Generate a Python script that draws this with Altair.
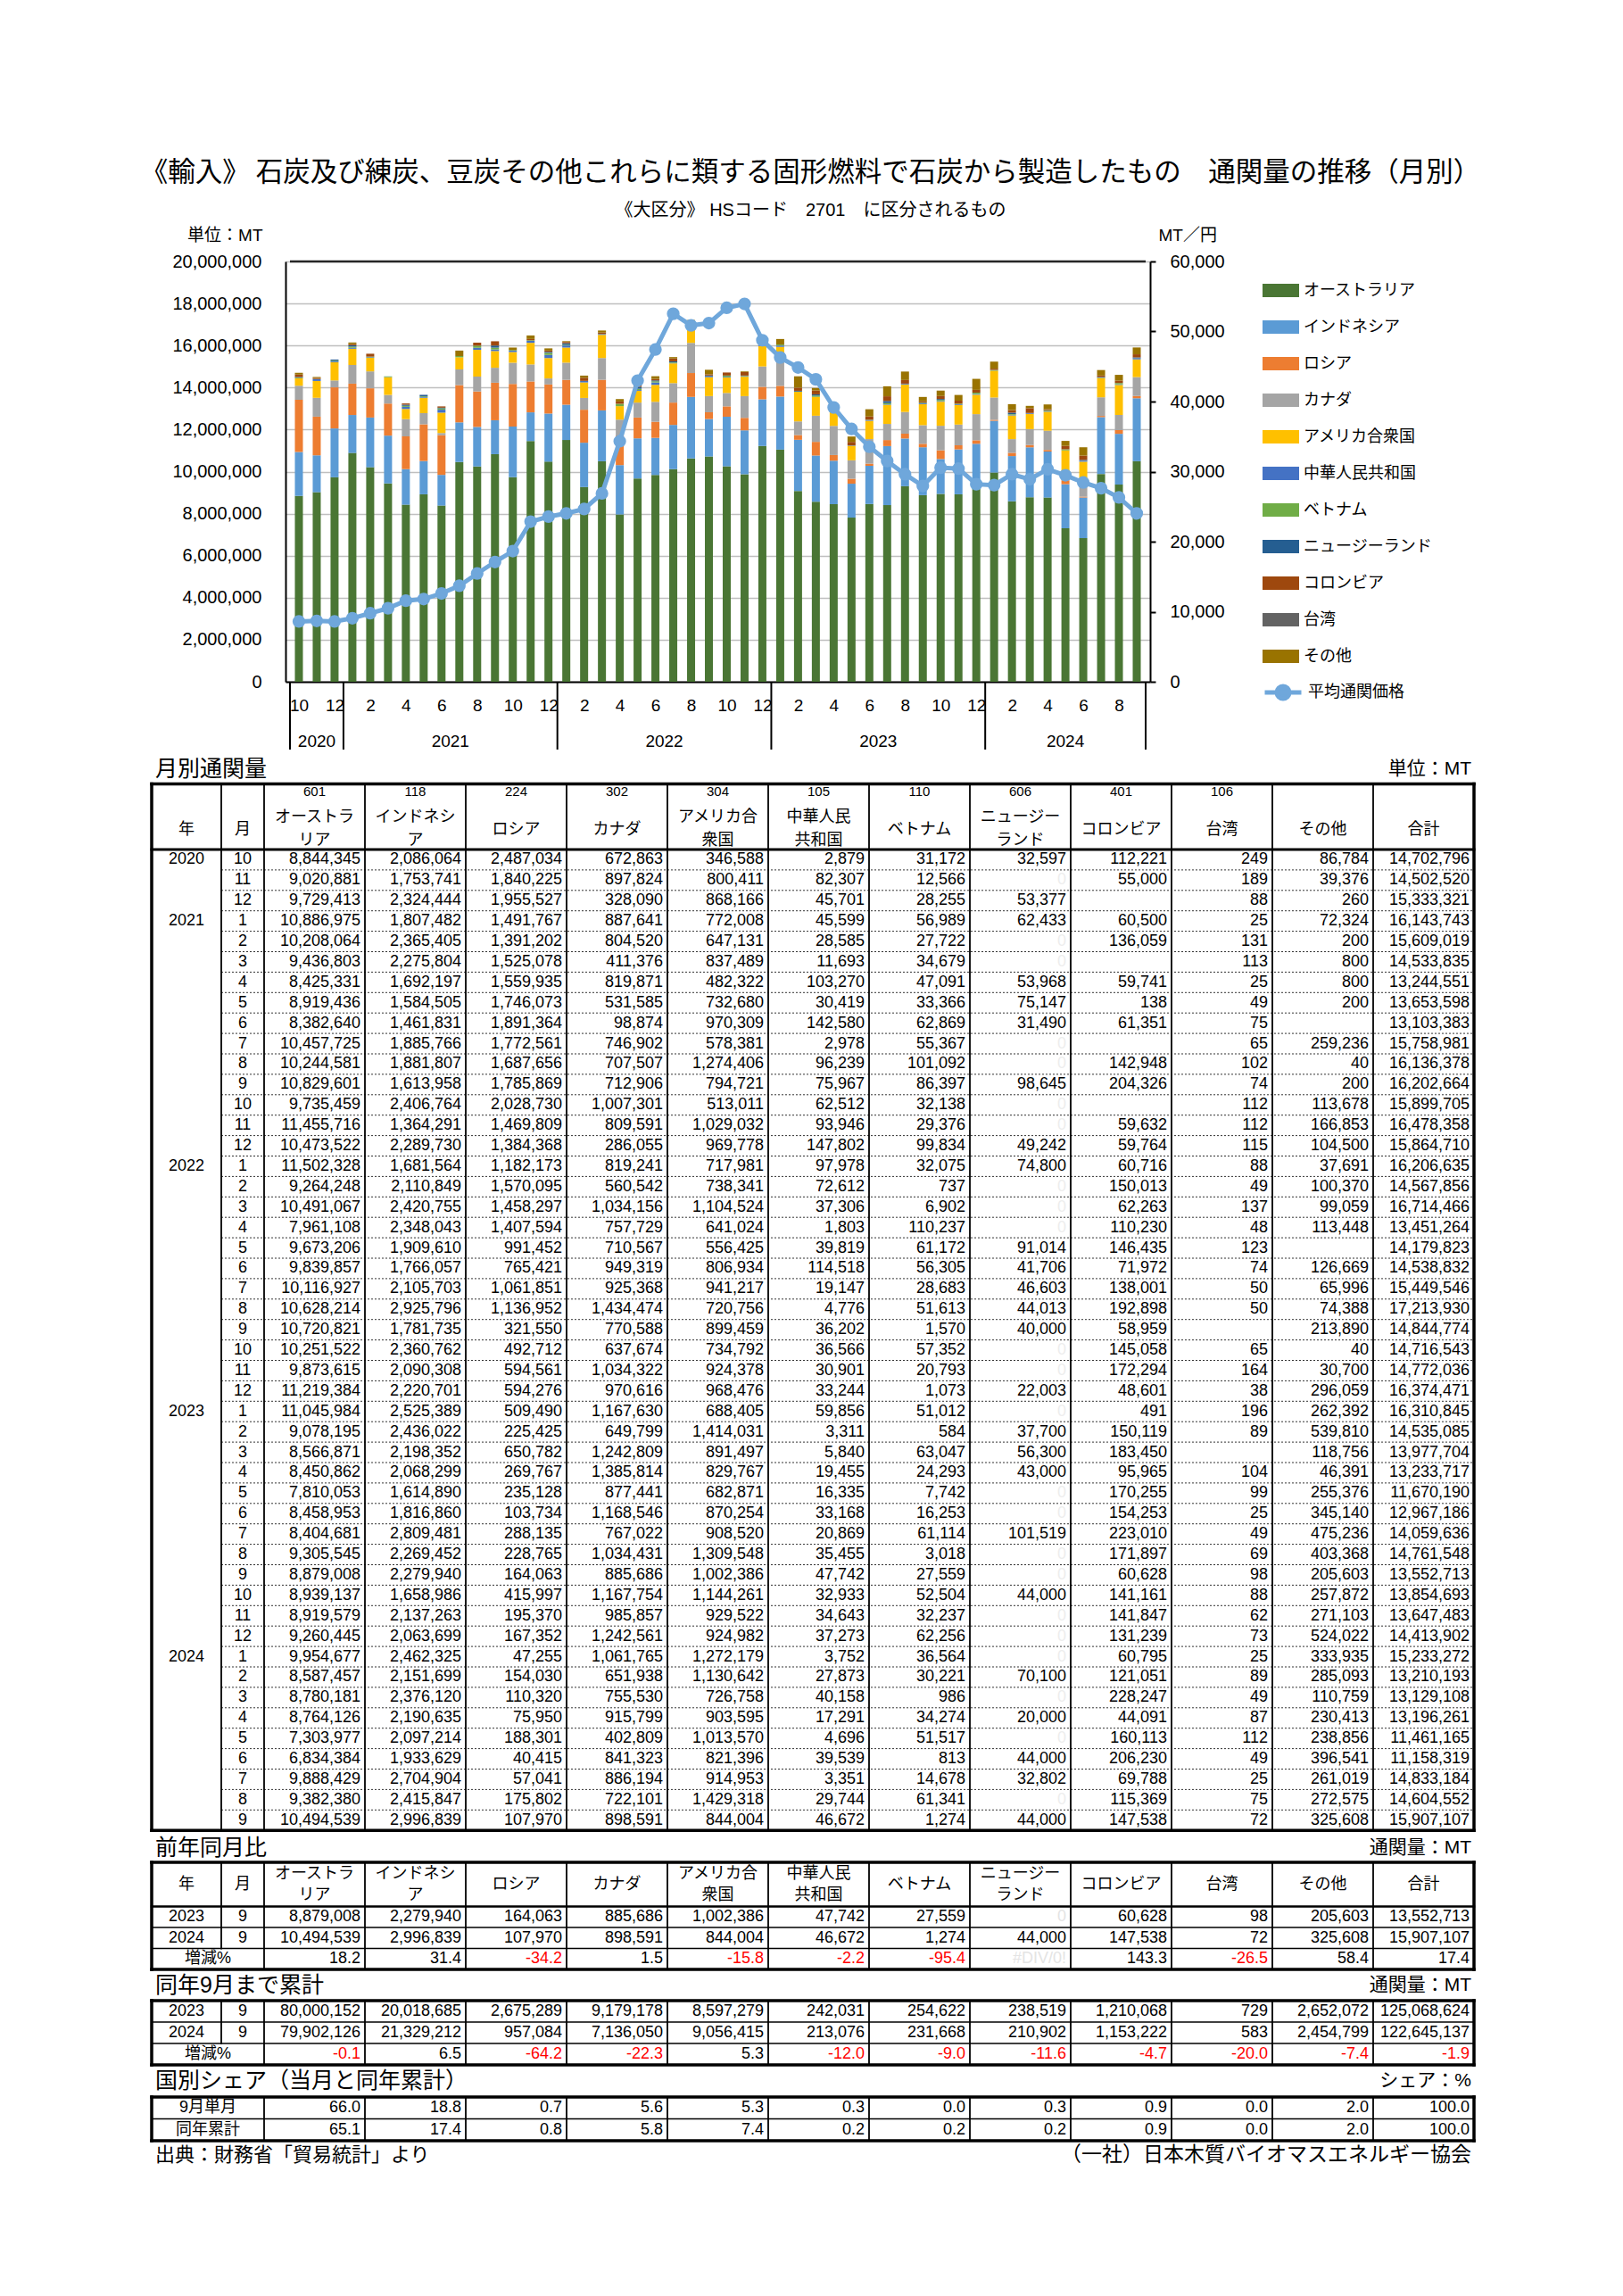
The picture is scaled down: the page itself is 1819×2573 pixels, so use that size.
import altair as alt
import pandas as pd

JP = "Noto Sans CJK JP"
MIX = "Liberation Sans, Noto Sans CJK JP"

# ---------------- data ----------------
years = [2020, 2020, 2020,
         2021, 2021, 2021, 2021, 2021, 2021, 2021, 2021, 2021, 2021, 2021, 2021,
         2022, 2022, 2022, 2022, 2022, 2022, 2022, 2022, 2022, 2022, 2022, 2022,
         2023, 2023, 2023, 2023, 2023, 2023, 2023, 2023, 2023, 2023, 2023, 2023,
         2024, 2024, 2024, 2024, 2024, 2024, 2024, 2024, 2024]
months = [10, 11, 12,
          1, 2, 3, 4, 5, 6, 7, 8, 9, 10, 11, 12,
          1, 2, 3, 4, 5, 6, 7, 8, 9, 10, 11, 12,
          1, 2, 3, 4, 5, 6, 7, 8, 9, 10, 11, 12,
          1, 2, 3, 4, 5, 6, 7, 8, 9]

countries = ["オーストラリア", "インドネシア", "ロシア", "カナダ", "アメリカ合衆国", "中華人民共和国",
             "ベトナム", "ニュージーランド", "コロンビア", "台湾", "その他"]
codes = ["601", "118", "224", "302", "304", "105", "110", "606", "401", "106", "", ""]
header_names = [("オーストラ", "リア"), ("インドネシ", "ア"), ("ロシア",), ("カナダ",), ("アメリカ合", "衆国"),
                ("中華人民", "共和国"), ("ベトナム",), ("ニュージー", "ランド"), ("コロンビア",), ("台湾",),
                ("その他",), ("合計",)]
colors = ["#4A7634", "#5B9BD5", "#ED7D31", "#A5A5A5", "#FFC000", "#4472C4",
          "#70AD47", "#255E91", "#9E480E", "#636363", "#997300"]
PRICE_C = "#6FA7DB"

aus = [8844345, 9020881, 9729413, 10886975, 10208064, 9436803, 8425331, 8919436, 8382640, 10457725, 10244581,
       10829601, 9735459, 11455716, 10473522, 11502328, 9264248, 10491067, 7961108, 9673206, 9839857, 10116927,
       10628214, 10720821, 10251522, 9873615, 11219384, 11045984, 9078195, 8566871, 8450862, 7810053, 8458953,
       8404681, 9305545, 8879008, 8939137, 8919579, 9260445, 9954677, 8587457, 8780181, 8764126, 7303977,
       6834384, 9888429, 9382380, 10494539]
indo = [2086064, 1753741, 2324444, 1807482, 2365405, 2275804, 1692197, 1584505, 1461831, 1885766, 1881807,
        1613958, 2406764, 1364291, 2289730, 1681564, 2110849, 2420755, 2348043, 1909610, 1766057, 2105703,
        2925796, 1781735, 2360762, 2090308, 2220701, 2525389, 2436022, 2198352, 2068299, 1614890, 1816860,
        2809481, 2269452, 2279940, 1658986, 2137263, 2063699, 2462325, 2151699, 2376120, 2190635, 2097214,
        1933629, 2704904, 2415847, 2996839]
rus = [2487034, 1840225, 1955527, 1491767, 1391202, 1525078, 1559935, 1746073, 1891364, 1772561, 1687656,
       1785869, 2028730, 1469809, 1384368, 1182173, 1570095, 1458297, 1407594, 991452, 765421, 1061851,
       1136952, 321550, 492712, 594561, 594276, 509490, 225425, 650782, 269767, 235128, 103734, 288135,
       228765, 164063, 415997, 195370, 167352, 47255, 154030, 110320, 75950, 188301, 40415, 57041, 175802,
       107970]
can = [672863, 897824, 328090, 887641, 804520, 411376, 819871, 531585, 98874, 746902, 707507, 712906,
       1007301, 809591, 286055, 819241, 560542, 1034156, 757729, 710567, 949319, 925368, 1434474, 770588,
       637674, 1034322, 970616, 1167630, 649799, 1242809, 1385814, 877441, 1168546, 767022, 1034431, 885686,
       1167754, 985857, 1242561, 1061765, 651938, 755530, 915799, 402809, 841323, 886194, 722101, 898591]
usa = [346588, 800411, 868166, 772008, 647131, 837489, 482322, 732680, 970309, 578381, 1274406, 794721,
       513011, 1029032, 969778, 717981, 738341, 1104524, 641024, 556425, 806934, 941217, 720756, 899459,
       734792, 924378, 968476, 688405, 1414031, 891497, 829767, 682871, 870254, 908520, 1309548, 1002386,
       1144261, 929522, 924982, 1272179, 1130642, 726758, 903595, 1013570, 821396, 914953, 1429318, 844004]
chn = [2879, 82307, 45701, 45599, 28585, 11693, 103270, 30419, 142580, 2978, 96239, 75967, 62512, 93946,
       147802, 97978, 72612, 37306, 1803, 39819, 114518, 19147, 4776, 36202, 36566, 30901, 33244, 59856,
       3311, 5840, 19455, 16335, 33168, 20869, 35455, 47742, 32933, 34643, 37273, 3752, 27873, 40158, 17291,
       4696, 39539, 3351, 29744, 46672]
vnm = [31172, 12566, 28255, 56989, 27722, 34679, 47091, 33366, 62869, 55367, 101092, 86397, 32138, 29376,
       99834, 32075, 737, 6902, 110237, 61172, 56305, 28683, 51613, 1570, 57352, 20793, 1073, 51012, 584,
       63047, 24293, 7742, 16253, 61114, 3018, 27559, 52504, 32237, 62256, 36564, 30221, 986, 34274, 51517,
       813, 14678, 61341, 1274]
nz = [32597, None, 53377, 62433, None, None, 53968, 75147, 31490, None, None, 98645, None, None, 49242,
      74800, None, None, None, 91014, 41706, 46603, 44013, 40000, None, None, 22003,
      None, 37700, 56300, 43000, None, None, 101519, None, None, 44000, None, None,
      None, 70100, None, 20000, None, 44000, 32802, None, 44000]
col = [112221, 55000, None, 60500, 136059, None, 59741, 138, 61351, None, 142948, 204326, None, 59632, 59764,
       60716, 150013, 62263, 110230, 146435, 71972, 138001, 192898, 58959, 145058, 172294, 48601,
       491, 150119, 183450, 95965, 170255, 154253, 223010, 171897, 60628, 141161, 141847, 131239,
       60795, 121051, 228247, 44091, 160113, 206230, 69788, 115369, 147538]
tw = [249, 189, 88, 25, 131, 113, 25, 49, 75, 65, 102, 74, 112, 112, 115,
      88, 49, 137, 48, 123, 74, 50, 50, None, 65, 164, 38,
      196, 89, None, 104, 99, 25, 49, 69, 98, 88, 62, 73,
      25, 89, 49, 87, 112, 49, 25, 75, 72]
oth = [86784, 39376, 260, 72324, 200, 800, 800, 200, None, 259236, 40, 200, 113678, 166853, 104500,
       37691, 100370, 99059, 113448, None, 126669, 65996, 74388, 213890, 40, 30700, 296059,
       262392, 539810, 118756, 46391, 255376, 345140, 475236, 403368, 205603, 257872, 271103, 524022,
       333935, 285093, 110759, 230413, 238856, 396541, 261019, 272575, 325608]
tot = [14702796, 14502520, 15333321, 16143743, 15609019, 14533835, 13244551, 13653598, 13103383, 15758981,
       16136378, 16202664, 15899705, 16478358, 15864710, 16206635, 14567856, 16714466, 13451264, 14179823,
       14538832, 15449546, 17213930, 14844774, 14716543, 14772036, 16374471, 16310845, 14535085, 13977704,
       13233717, 11670190, 12967186, 14059636, 14761548, 13552713, 13854693, 13647483, 14413902, 15233272,
       13210193, 13129108, 13196261, 11461165, 11158319, 14833184, 14604552, 15907107]
price = [8600, 8690, 8600, 9070, 9780, 10490, 11570, 11810, 12610, 13700, 15450, 17100, 18660, 22860, 23570,
         24040, 24660, 26880, 34340, 42990, 47430, 52530, 50870, 51200, 53380, 53940, 48750,
         46290, 44870, 43170, 39160, 36090, 33540, 31510, 29620, 27960, 30560, 30420, 28200,
         28060, 29620, 28910, 30330, 29480, 28440, 27630, 26310, 24040]

yoy_2023 = [8879008, 2279940, 164063, 885686, 1002386, 47742, 27559, 0, 60628, 98, 205603, 13552713]
yoy_2024 = [10494539, 2996839, 107970, 898591, 844004, 46672, 1274, 44000, 147538, 72, 325608, 15907107]
yoy_pct = [18.2, 31.4, -34.2, 1.5, -15.8, -2.2, -95.4, None, 143.3, -26.5, 58.4, 17.4]
cum_2023 = [80000152, 20018685, 2675289, 9179178, 8597279, 242031, 254622, 238519, 1210068, 729, 2652072,
            125068624]
cum_2024 = [79902126, 21329212, 957084, 7136050, 9056415, 213076, 231668, 210902, 1153222, 583, 2454799,
            122645137]
cum_pct = [-0.1, 6.5, -64.2, -22.3, 5.3, -12.0, -9.0, -11.6, -4.7, -20.0, -7.4, -1.9]
share_month = [66.0, 18.8, 0.7, 5.6, 5.3, 0.3, 0.0, 0.3, 0.9, 0.0, 2.0, 100.0]
share_cum = [65.1, 17.4, 0.8, 5.8, 7.4, 0.2, 0.2, 0.2, 0.9, 0.0, 2.0, 100.0]

year_labels = ["2020", "2021", "2022", "2023", "2024"]
year_centers = [1, 8.5, 20.5, 32.5, 43]
year_seps = [-0.5, 2.5, 14.5, 26.5, 38.5, 47.5]

series = [aus, indo, rus, can, usa, chn, vnm, nz, col, tw, oth]

bad = []
for r in range(48):
    s = sum((v[r] or 0) for v in series)
    if s != tot[r]:
        bad.append((years[r], months[r], tot[r] - s))
if bad:
    raise ValueError("row sum mismatch: " + str(bad))

# ---------------- chart panel ----------------
W, H = 969, 471

bar_rows = []
for k, (name, vals) in enumerate(zip(countries, series)):
    for r, v in enumerate(vals):
        if v:
            bar_rows.append({"i": r, "country": name, "v": v, "ord": k})
df_bars = pd.DataFrame(bar_rows)
df_price = pd.DataFrame({"i": list(range(48)), "price": price, "s": ["平均通関価格"] * 48})


def xenc(field):
    return alt.X(f"{field}:Q",
                 scale=alt.Scale(domain=[-0.5, 47.5], nice=False, zero=False),
                 axis=alt.Axis(values=list(range(0, 48, 2)),
                               labelExpr="((datum.value + 9) % 12) + 1",
                               ticks=False, tickSize=0, grid=False,
                               domainColor="black", domainWidth=2,
                               labelFont="Liberation Sans", labelFontSize=19, labelColor="black",
                               labelPadding=26, labelBaseline="middle",
                               labelOverlap=False, labelBound=False, labelFlush=False,
                               title=None))


bars = alt.Chart(df_bars).mark_bar(size=9).encode(
    x=xenc("i"),
    y=alt.Y("v:Q", stack="zero",
            scale=alt.Scale(domain=[0, 20000000], nice=False),
            axis=alt.Axis(values=[i * 2000000 for i in range(11)], format=",.0f",
                          grid=True, gridColor="#BFBFBF", gridWidth=1.5,
                          ticks=False, tickSize=0,
                          domainColor="black", domainWidth=2,
                          labelFont="Liberation Sans", labelFontSize=20, labelColor="black",
                          labelPadding=27,
                          title="単位：MT", titleAngle=0, titleX=-26, titleY=-30,
                          titleAlign="right", titleBaseline="middle",
                          titleFont=MIX, titleFontSize=19, titleFontWeight="normal",
                          titleColor="black")),
    color=alt.Color("country:N",
                    scale=alt.Scale(domain=countries, range=colors),
                    legend=alt.Legend(orient="none", legendX=1095, legendY=12, title=None,
                                      symbolType="M-1,-0.36H1V0.36H-1Z", symbolSize=1681,
                                      symbolStrokeWidth=0, symbolOpacity=1,
                                      labelFont=JP, labelFontSize=18, labelColor="black",
                                      labelOffset=5, labelLimit=400, rowPadding=11, padding=0)),
    order=alt.Order("ord:Q", sort="ascending"),
)

line = alt.Chart(df_price).mark_line(
    strokeWidth=5,
    point=alt.OverlayMarkDef(filled=True, size=150, color=PRICE_C),
).encode(
    x=xenc("i"),
    y=alt.Y("price:Q",
            scale=alt.Scale(domain=[0, 60000], nice=False),
            axis=alt.Axis(orient="right", values=[i * 10000 for i in range(7)], format=",.0f",
                          grid=False, ticks=True, tickSize=6, tickColor="black", tickWidth=2,
                          domainColor="black", domainWidth=2,
                          labelFont="Liberation Sans", labelFontSize=20, labelColor="black",
                          labelPadding=16,
                          title="MT／円", titleAngle=0, titleX=9, titleY=-30,
                          titleAlign="left", titleBaseline="middle",
                          titleFont=MIX, titleFontSize=19, titleFontWeight="normal",
                          titleColor="black")),
    stroke=alt.Stroke("s:N",
                      scale=alt.Scale(domain=["平均通関価格"], range=[PRICE_C]),
                      legend=alt.Legend(orient="none", legendX=1095, legendY=460, title=None,
                                        symbolType="M-1,0H1M0.34,0A0.34,0.34,0,1,1,-0.34,0A0.34,0.34,0,1,1,0.34,0",
                                        symbolSize=1681, symbolStrokeWidth=5,
                                        symbolFillColor=PRICE_C,
                                        labelFont=JP, labelFontSize=18, labelColor="black",
                                        labelOffset=5, labelLimit=400, padding=0)),
)

top_border = alt.Chart(pd.DataFrame({"a": [-0.5], "b": [47.5]})).mark_rule(
    color="#262626", strokeWidth=2.5).encode(x=xenc("a"), x2="b:Q", y=alt.value(0))

seps = alt.Chart(pd.DataFrame({"sx": year_seps})).mark_rule(color="black", strokeWidth=2).encode(
    x=xenc("sx"), y=alt.value(H), y2=alt.value(H + 76))

ylab = alt.Chart(pd.DataFrame({"yc": year_centers, "yl": year_labels})).mark_text(
    font="Liberation Sans", fontSize=19, baseline="middle", color="black").encode(
    x=xenc("yc"), y=alt.value(H + 67), text="yl:N")

p1 = alt.layer(bars, line, top_border, seps, ylab).resolve_scale(y="independent").properties(
    width=W, height=H,
    title=alt.TitleParams(
        text="《輸入》 石炭及び練炭、豆炭その他これらに類する固形燃料で石炭から製造したもの　通関量の推移（月別）",
        subtitle="《大区分》 HSコード　2701　に区分されるもの",
        anchor="middle", frame="group", dx=104, offset=8,
        font=JP, fontSize=30.5, fontWeight="normal", color="black",
        subtitleFont=MIX, subtitleFontSize=20, subtitleColor="black", subtitlePadding=17),
)

# ---------------- tables panel ----------------
edges = [168, 246, 294, 407, 520, 633, 746, 859, 972, 1085, 1198, 1311, 1424, 1537, 1650]
L, R = edges[0], edges[-1]
YC = (edges[0] + edges[1]) / 2
MC = (edges[1] + edges[2]) / 2
LC = (edges[0] + edges[2]) / 2

cells = []
lines = []
dots = []


def txt(x, y, t, fs=18, c="black", a="right"):
    cells.append({"x": x, "y": y, "t": t, "fs": fs, "c": c, "a": a})


def hl(y, x1, x2, w):
    lines.append({"x": x1, "x2": x2, "y": y, "y2": y, "w": w})


def vl(x, y1, y2, w):
    lines.append({"x": x, "x2": x, "y": y1, "y2": y2, "w": w})


def num(k, y, v, c="black"):
    txt(edges[k + 3] - 5, y, v, 18, c, "right")


def header(top, y_single, y1, y2, with_codes, y_code=None):
    txt(YC, y_single, "年", 18, "black", "center")
    txt(MC, y_single, "月", 18, "black", "center")
    for k, nm in enumerate(header_names):
        cx = (edges[k + 2] + edges[k + 3]) / 2
        if with_codes and codes[k]:
            txt(cx, y_code, codes[k], 15, "black", "center")
        if len(nm) == 1:
            txt(cx, y_single, nm[0], 18, "black", "center")
        else:
            txt(cx, y1, nm[0], 18, "black", "center")
            txt(cx, y2, nm[1], 18, "black", "center")


def pct_text(v):
    if v is None:
        return "#DIV/0!", "#E4E4E4"
    return f"{v:.1f}", ("#FF0000" if v < 0 else "black")


def section(y, left, right):
    txt(172, y, left, 25, "black", "left")
    txt(R - 3, y, right, 21, "black", "right")


# --- table 1: monthly ---
T1_TOP, T1_HB, RH = 877.5, 951.0, 22.9
T1_BOT = T1_HB + 48 * RH
section(861, "月別通関量", "単位：MT")
header(T1_TOP, 929, 915, 941, True, 886)
for r in range(48):
    y = T1_HB + (r + 0.5) * RH
    if r == 0 or months[r] == 1:
        txt(YC, y, str(years[r]), 18, "black", "center")
    txt(MC, y, str(months[r]), 18, "black", "center")
    for k, vals in enumerate(series):
        v = vals[r]
        if v is None:
            if k == 7:
                num(k, y, "0", "#EDEDED")
            continue
        num(k, y, f"{v:,}")
    num(11, y, f"{tot[r]:,}")
    if r > 0:
        dots.append({"x": edges[1], "x2": R, "y": T1_HB + r * RH, "y2": T1_HB + r * RH})
for x in edges[1:-1]:
    vl(x, T1_TOP, T1_BOT, 1.8)
hl(T1_TOP, L, R, 3.5)
hl(T1_BOT, L, R, 3.5)
vl(L, T1_TOP, T1_BOT, 3.5)
vl(R, T1_TOP, T1_BOT, 3.5)
hl(T1_HB, L, R, 3)

# --- table 2: year over year ---
T2_TOP, T2_HB, R2 = 2086.0, 2135.5, 23.5
T2_BOT = T2_HB + 3 * R2
section(2070, "前年同月比", "通関量：MT")
header(T2_TOP, 2111, 2099, 2123, False)
for j, (yl, vals) in enumerate([("2023", yoy_2023), ("2024", yoy_2024)]):
    y = T2_HB + (j + 0.5) * R2
    txt(YC, y, yl, 18, "black", "center")
    txt(MC, y, "9", 18, "black", "center")
    for k, v in enumerate(vals):
        num(k, y, f"{v:,}", "#E4E4E4" if v == 0 else "black")
y = T2_HB + 2.5 * R2
txt(LC, y, "増減%", 18, "black", "center")
for k, v in enumerate(yoy_pct):
    t, c = pct_text(v)
    num(k, y, t, c)
hl(T2_HB + R2, L, R, 1.5)
hl(T2_HB + 2 * R2, L, R, 1.5)
hl(T2_HB, L, R, 2.5)
for x in edges[2:-1]:
    vl(x, T2_TOP, T2_BOT, 1.8)
vl(edges[1], T2_TOP, T2_HB + 2 * R2, 1.8)
hl(T2_TOP, L, R, 3.5)
hl(T2_BOT, L, R, 3.5)
vl(L, T2_TOP, T2_BOT, 3.5)
vl(R, T2_TOP, T2_BOT, 3.5)

# --- table 3: cumulative ---
T3_TOP, R3 = 2241.0, 24.0
T3_BOT = T3_TOP + 3 * R3
section(2224, "同年9月まで累計", "通関量：MT")
for j, (yl, vals) in enumerate([("2023", cum_2023), ("2024", cum_2024)]):
    y = T3_TOP + (j + 0.5) * R3
    txt(YC, y, yl, 18, "black", "center")
    txt(MC, y, "9", 18, "black", "center")
    for k, v in enumerate(vals):
        num(k, y, f"{v:,}")
y = T3_TOP + 2.5 * R3
txt(LC, y, "増減%", 18, "black", "center")
for k, v in enumerate(cum_pct):
    t, c = pct_text(v)
    num(k, y, t, c)
hl(T3_TOP + R3, L, R, 1.5)
hl(T3_TOP + 2 * R3, L, R, 1.5)
for x in edges[2:-1]:
    vl(x, T3_TOP, T3_BOT, 1.8)
vl(edges[1], T3_TOP, T3_TOP + 2 * R3, 1.8)
hl(T3_TOP, L, R, 3.5)
hl(T3_BOT, L, R, 3.5)
vl(L, T3_TOP, T3_BOT, 3.5)
vl(R, T3_TOP, T3_BOT, 3.5)

# --- table 4: share ---
T4_TOP, R4 = 2349.0, 24.5
T4_BOT = T4_TOP + 2 * R4
section(2331, "国別シェア（当月と同年累計）", "シェア：%")
for j, (lab, vals) in enumerate([("9月単月", share_month), ("同年累計", share_cum)]):
    y = T4_TOP + (j + 0.5) * R4
    txt(LC, y, lab, 18, "black", "center")
    for k, v in enumerate(vals):
        num(k, y, f"{v:.1f}")
hl(T4_TOP + R4, L, R, 1.5)
for x in edges[2:-1]:
    vl(x, T4_TOP, T4_BOT, 1.8)
hl(T4_TOP, L, R, 3.5)
hl(T4_BOT, L, R, 3.5)
vl(L, T4_TOP, T4_BOT, 3.5)
vl(R, T4_TOP, T4_BOT, 3.5)

# footer
txt(172, 2414, "出典：財務省「貿易統計」より", 22, "black", "left")
txt(R - 3, 2414, "（一社）日本木質バイオマスエネルギー協会", 23, "black", "right")

TX0, TX1 = 318, 1652
TY0, TY1 = 763, 2440
df_cells = pd.DataFrame(cells)
df_lines = pd.DataFrame(lines)
df_dots = pd.DataFrame(dots)

tx = lambda f: alt.X(f"{f}:Q", scale=alt.Scale(domain=[TX0, TX1], nice=False, zero=False), axis=None)
ty = lambda f: alt.Y(f"{f}:Q", scale=alt.Scale(domain=[TY0, TY1], nice=False, zero=False, reverse=True),
                     axis=None)

text_layers = []
for a in ["left", "center", "right"]:
    sub = df_cells[df_cells["a"] == a]
    text_layers.append(
        alt.Chart(sub).mark_text(align=a, baseline="middle", font=MIX).encode(
            x=tx("x"), y=ty("y"), text="t:N",
            size=alt.Size("fs:Q", scale=None),
            color=alt.Color("c:N", scale=None)))

solid = alt.Chart(df_lines).mark_rule(color="black", strokeCap="square").encode(
    x=tx("x"), x2="x2:Q", y=ty("y"), y2="y2:Q", strokeWidth=alt.StrokeWidth("w:Q", scale=None))
dotted = alt.Chart(df_dots).mark_rule(color="#333333", strokeWidth=1, strokeDash=[2, 2]).encode(
    x=tx("x"), x2="x2:Q", y=ty("y"), y2="y2:Q")

tables = alt.layer(dotted, solid, *text_layers).properties(width=TX1 - TX0, height=TY1 - TY0)

chart = alt.vconcat(p1, tables, spacing=0, bounds="flush").resolve_scale(
    x="independent", y="independent", color="independent"
).resolve_legend(color="independent", stroke="independent").properties(
    padding={"left": 157, "top": 178, "right": 0, "bottom": 0},
    background="white",
).configure_view(stroke=None)

chart.save("out.html", embed_options={"renderer": "svg", "actions": False})
